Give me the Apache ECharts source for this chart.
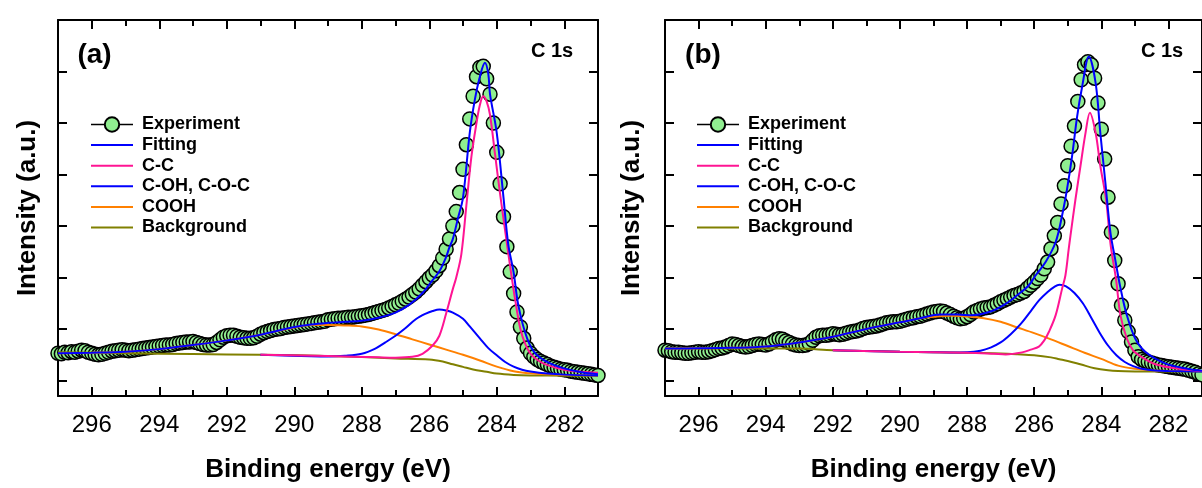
<!DOCTYPE html>
<html><head><meta charset="utf-8">
<script src="https://cdn.jsdelivr.net/npm/echarts@6/dist/echarts.min.js"></script>
<style>html,body{margin:0;padding:0;background:#fff}#c{width:1202px;height:488px}</style>
</head><body><div id="c"></div>
<script>
// ---------- data ----------
const E_START = 297, E_STEP = 0.1;           // experiment energy grid (eV)
const expA = [
0.53,0.52,0.55,0.54,0.56,0.55,0.57,0.59,0.58,0.55,
0.53,0.51,0.50,0.51,0.53,0.55,0.57,0.58,0.59,0.60,
0.59,0.58,0.59,0.60,0.61,0.62,0.63,0.64,0.65,0.66,
0.67,0.68,0.69,0.69,0.70,0.72,0.73,0.74,0.75,0.75,
0.76,0.74,0.72,0.70,0.69,0.69,0.70,0.74,0.79,0.84,
0.87,0.88,0.88,0.86,0.84,0.83,0.82,0.82,0.83,0.86,
0.90,0.93,0.95,0.97,0.99,1.00,1.01,1.03,1.04,1.05,
1.06,1.07,1.08,1.09,1.10,1.11,1.12,1.13,1.14,1.15,
1.18,1.19,1.20,1.21,1.21,1.22,1.23,1.23,1.24,1.25,
1.26,1.27,1.28,1.30,1.32,1.34,1.36,1.38,1.41,1.44,
1.47,1.50,1.54,1.58,1.62,1.67,1.72,1.78,1.85,1.92,
1.99,2.05,2.13,2.23,2.38,2.55,2.75,3.00,3.28,3.65,
4.10,4.58,5.08,5.52,5.90,6.08,6.10,5.86,5.56,5.00,
4.43,3.82,3.18,2.60,2.11,1.69,1.33,1.04,0.82,0.63,
0.53,0.46,0.41,0.37,0.34,0.31,0.28,0.26,0.24,0.22,
0.21,0.20,0.18,0.17,0.16,0.15,0.14,0.13,0.12,0.11,0.10];
const expB = [
0.59,0.58,0.56,0.55,0.55,0.54,0.53,0.53,0.54,0.55,
0.56,0.55,0.55,0.56,0.58,0.60,0.62,0.63,0.65,0.68,
0.71,0.70,0.68,0.66,0.65,0.66,0.68,0.70,0.71,0.70,
0.69,0.71,0.75,0.79,0.81,0.80,0.77,0.74,0.71,0.69,
0.68,0.68,0.69,0.72,0.78,0.84,0.87,0.88,0.88,0.89,
0.91,0.90,0.89,0.90,0.92,0.94,0.95,0.96,0.98,1.01,
1.03,1.04,1.05,1.06,1.08,1.10,1.12,1.13,1.14,1.14,
1.15,1.17,1.19,1.21,1.22,1.24,1.25,1.27,1.29,1.31,
1.33,1.34,1.35,1.34,1.31,1.28,1.25,1.22,1.20,1.21,
1.24,1.28,1.33,1.36,1.39,1.41,1.42,1.43,1.46,1.49,
1.53,1.56,1.59,1.62,1.65,1.67,1.70,1.73,1.79,1.85,
1.91,1.98,2.05,2.17,2.30,2.56,2.81,3.07,3.43,3.78,
4.17,4.55,4.94,5.42,5.84,6.13,6.19,6.13,5.87,5.39,
4.88,4.30,3.56,2.88,2.33,1.88,1.46,1.17,0.95,0.75,
0.59,0.46,0.41,0.38,0.36,0.34,0.32,0.30,0.29,0.28,
0.27,0.26,0.25,0.24,0.23,0.22,0.20,0.18,0.16,0.13,0.11];

// panel (a) fit components: [energy, intensity]
const fitA = [[297,0.53],[296,0.54],[295,0.56],[294,0.61],[293,0.69],[292,0.78],[291,0.89],[290,1.04],[289.5,1.09],[289,1.12],[288.5,1.14],[288,1.16],[287.5,1.22],[287,1.32],[286.6,1.47],[286.2,1.70],[285.9,1.95],[285.7,2.12],[285.5,2.40],[285.4,2.59],[285.3,2.75],[285.15,3.15],[285.0,3.55],[284.8,4.81],[284.65,5.45],[284.5,5.90],[284.35,6.17],[284.25,5.95],[284.2,5.56],[284.0,4.81],[283.8,3.55],[283.66,2.65],[283.5,2.10],[283.36,1.46],[283.1,0.82],[282.82,0.50],[282.3,0.30],[281.6,0.174],[281,0.122]];
const ccA = [[291,0.50],[289,0.475],[287.5,0.45],[287,0.444],[286.5,0.46],[286.2,0.52],[285.9,0.68],[285.7,0.87],[285.5,1.30],[285.3,1.78],[285.2,2.0],[285.05,2.45],[284.9,3.40],[284.75,4.35],[284.6,5.0],[284.5,5.35],[284.4,5.52],[284.3,5.42],[284.2,5.16],[284.05,4.39],[283.9,3.62],[283.75,2.90],[283.6,2.2],[283.45,1.55],[283.3,1.0],[283.15,0.70],[283,0.52],[282.75,0.38],[282.5,0.30],[282,0.21],[281.5,0.17],[281,0.15]];
const cohA = [[291,0.50],[289.5,0.47],[289,0.465],[288.5,0.48],[288,0.52],[287.6,0.62],[287.3,0.74],[287,0.87],[286.7,1.02],[286.4,1.19],[286.1,1.30],[285.9,1.35],[285.7,1.378],[285.5,1.36],[285.3,1.32],[285.0,1.20],[284.8,1.05],[284.5,0.82],[284.25,0.63],[284.0,0.49],[283.75,0.36],[283.5,0.27],[283.25,0.21],[283,0.175],[282.5,0.135],[282,0.115],[281,0.10]];
const coohA = [[297,0.53],[296,0.54],[295,0.56],[294,0.61],[293,0.69],[292,0.78],[291,0.89],[290.5,0.96],[290,1.03],[289.5,1.08],[289,1.08],[288.5,1.07],[288,1.05],[287.5,0.99],[287,0.90],[286.5,0.80],[286,0.70],[285.5,0.60],[285,0.50],[284.5,0.39],[284,0.27],[283.5,0.18],[283,0.14],[282.5,0.12],[282,0.11],[281,0.10]];
const bgA = [[297,0.55],[295,0.53],[293,0.515],[291,0.50],[289.8,0.49],[289,0.475],[288,0.455],[287,0.43],[286,0.41],[285.6,0.37],[285.3,0.315],[285.0,0.265],[284.7,0.215],[284.3,0.17],[284.0,0.135],[283.5,0.11],[283,0.10],[282,0.095],[281,0.093]];

// panel (b) fit components
const fitB = [[297,0.62],[296,0.625],[295,0.635],[294,0.66],[293,0.74],[292,0.85],[291,1.00],[290,1.13],[289.4,1.21],[288.8,1.28],[288.3,1.28],[287.84,1.27],[287.3,1.34],[286.85,1.49],[286.5,1.66],[286.16,1.85],[285.96,2.04],[285.66,2.30],[285.36,2.69],[285.17,3.20],[285.02,3.72],[284.87,4.36],[284.72,5.13],[284.57,5.71],[284.37,6.29],[284.17,5.78],[284.03,4.81],[283.88,3.85],[283.73,2.88],[283.6,2.40],[283.43,1.80],[283.24,1.27],[282.99,0.817],[282.69,0.56],[282.1,0.334],[281.4,0.224],[281,0.19]];
const ccB = [[292,0.59],[290,0.56],[288,0.54],[287.2,0.52],[286.85,0.508],[286.36,0.547],[286.1,0.60],[285.86,0.66],[285.7,0.78],[285.56,0.947],[285.36,1.27],[285.17,1.78],[285.07,2.04],[284.97,2.56],[284.92,2.81],[284.77,3.52],[284.62,4.17],[284.47,4.81],[284.34,5.20],[284.17,4.81],[284.03,4.17],[283.86,3.52],[283.72,2.62],[283.56,1.96],[283.43,1.27],[283.24,0.817],[283.05,0.58],[282.89,0.495],[282.39,0.315],[281.64,0.224],[281,0.186]];
const cohB = [[292,0.59],[290,0.56],[289,0.55],[288.5,0.545],[288,0.55],[287.6,0.58],[287.3,0.64],[287,0.74],[286.7,0.90],[286.4,1.10],[286.1,1.35],[285.85,1.56],[285.6,1.72],[285.4,1.82],[285.25,1.86],[285.05,1.83],[284.8,1.70],[284.55,1.50],[284.3,1.22],[284.05,0.93],[283.8,0.68],[283.55,0.49],[283.3,0.36],[283.05,0.28],[282.8,0.23],[282.4,0.195],[282,0.185],[281,0.175]];
const coohB = [[297,0.62],[296,0.625],[295,0.635],[294,0.66],[293,0.74],[292,0.85],[291,1.00],[290,1.13],[289.4,1.21],[288.9,1.245],[288.5,1.256],[288,1.245],[287.5,1.21],[287,1.14],[286.5,1.03],[286,0.92],[285.5,0.80],[285,0.67],[284.5,0.54],[284,0.42],[283.5,0.29],[283,0.23],[282.5,0.20],[282,0.19],[281,0.186]];
const bgB = [[297,0.62],[295,0.625],[293,0.62],[292,0.59],[291,0.575],[290,0.56],[289,0.55],[288,0.54],[287,0.525],[286.5,0.51],[286,0.49],[285.5,0.45],[285.25,0.415],[285,0.38],[284.6,0.31],[284.2,0.24],[283.8,0.20],[283.5,0.185],[283,0.178],[282,0.175],[281,0.174]];

const majorTicks = [282,284,286,288,290,292,294,296];
const minorTicks = [283,285,287,289,291,293,295];
const yTicks = [0,1,2,3,4,5,6,7];
const legendNames = ['Experiment','Fitting','C-C','C-OH, C-O-C','COOH','Background'];
const panelLabels = ['(a)','(b)'];
const coreLabel = 'C 1s';

// ---------- chart ----------
const FONT = 'Arial, "Liberation Sans", sans-serif';
const toPairs = arr => arr.map((v, i) => [+(E_START - i * E_STEP).toFixed(1), v]);

const grids = [
  {left: 58, top: 20, width: 540, height: 378, yGap: 17, legLeft: 90, lab: [94.5, 55], core: [552, 51]},
  {left: 665, top: 20, width: 539, height: 378, yGap: 20, legLeft: 696, lab: [703, 55], core: [1162, 51]}
];
const panels = [
  {exp: expA, fit: fitA, cc: ccA, coh: cohA, cooh: coohA, bg: bgA},
  {exp: expB, fit: fitB, cc: ccB, coh: cohB, cooh: coohB, bg: bgB}
];

const option = {animation: false, grid: [], xAxis: [], yAxis: [], series: [], legend: [], graphic: []};
const black = '#000';
grids.forEach((g, gi) => {
  option.grid.push({left: g.left, top: g.top, width: g.width, height: g.height, containLabel: false});
  const xBase = {gridIndex: gi, type: 'value', min: 281, max: 297, inverse: true, splitLine: {show: false}};
  option.xAxis.push(Object.assign({}, xBase, {
    position: 'bottom',
    axisLine: {show: true, onZero: false, lineStyle: {color: black, width: 2}},
    axisTick: {show: true, inside: true, length: 9, lineStyle: {color: black, width: 2}, customValues: majorTicks},
    axisLabel: {show: true, customValues: majorTicks, fontSize: 24, color: black, margin: 17, fontFamily: FONT},
    name: 'Binding energy (eV)', nameLocation: 'middle', nameGap: 61,
    nameTextStyle: {fontSize: 26, fontWeight: 'bold', color: black, fontFamily: FONT}
  }));
  option.xAxis.push(Object.assign({}, xBase, {
    position: 'top',
    axisLine: {show: true, onZero: false, lineStyle: {color: black, width: 2}},
    axisTick: {show: true, inside: true, length: 9, lineStyle: {color: black, width: 2}, customValues: majorTicks},
    axisLabel: {show: false}
  }));
  ['bottom', 'top'].forEach(pos => option.xAxis.push(Object.assign({}, xBase, {
    position: pos,
    axisLine: {show: false, onZero: false},
    axisTick: {show: true, inside: true, length: 6, lineStyle: {color: black, width: 2}, customValues: minorTicks},
    axisLabel: {show: false}
  })));
  const yBase = {gridIndex: gi, type: 'value', min: -0.3, max: 7, splitLine: {show: false},
    axisLine: {show: true, onZero: false, lineStyle: {color: black, width: 2}},
    axisTick: {show: true, inside: true, length: 9, lineStyle: {color: black, width: 2}, customValues: yTicks},
    axisLabel: {show: false}};
  option.yAxis.push(Object.assign({}, yBase, {position: 'left',
    name: 'Intensity (a.u.)', nameLocation: 'middle', nameRotate: 90, nameGap: g.yGap,
    nameTextStyle: {fontSize: 26, fontWeight: 'bold', color: black, fontFamily: FONT}}));
  option.yAxis.push(Object.assign({}, yBase, {position: 'right'}));

  const xi = gi * 4, yi = gi * 2;
  const p = panels[gi];
  option.series.push({
    name: 'Experiment', type: 'line', xAxisIndex: xi, yAxisIndex: yi, data: toPairs(p.exp),
    symbol: 'circle', symbolSize: 14, showAllSymbol: true, z: 2,
    lineStyle: {color: black, width: 1.5, opacity: 0},
    itemStyle: {color: '#90EE90', borderColor: black, borderWidth: 1.5}
  });
  const lines = [
    ['Background', p.bg, '#808000', 3],
    ['COOH', p.cooh, '#FF8000', 4],
    ['C-OH, C-O-C', p.coh, '#0000FF', 5],
    ['C-C', p.cc, '#FF1493', 6],
    ['Fitting', p.fit, '#0000FF', 7]
  ];
  lines.forEach(([name, data, color, z]) => option.series.push({
    name, type: 'line', xAxisIndex: xi, yAxisIndex: yi, data, smooth: 0.35, symbol: 'none', z,
    lineStyle: {color, width: 2}, itemStyle: {color}
  }));

  option.legend.push({
    left: g.legLeft, top: 115.5, orient: 'vertical', itemWidth: 42, itemHeight: 18, itemGap: 2.6,
    padding: 0, selectedMode: false,
    textStyle: {fontSize: 18, fontWeight: 'bold', color: black, fontFamily: FONT, padding: [0, 0, 0, 4]},
    data: legendNames.map((n, k) => k === 0
      ? {name: n, lineStyle: {color: black, width: 1.5, opacity: 1}}
      : {name: n, itemStyle: {opacity: 0}})
  });
  option.graphic.push({type: 'text', x: g.lab[0], y: g.lab[1],
    style: {text: panelLabels[gi], font: 'bold 28px ' + FONT, fill: black, align: 'center', verticalAlign: 'middle'}});
  option.graphic.push({type: 'text', x: g.core[0], y: g.core[1],
    style: {text: coreLabel, font: 'bold 20px ' + FONT, fill: black, align: 'center', verticalAlign: 'middle'}});
});

const chart = echarts.init(document.getElementById('c'), null, {renderer: 'canvas'});
chart.setOption(option);
</script>
</body></html>
